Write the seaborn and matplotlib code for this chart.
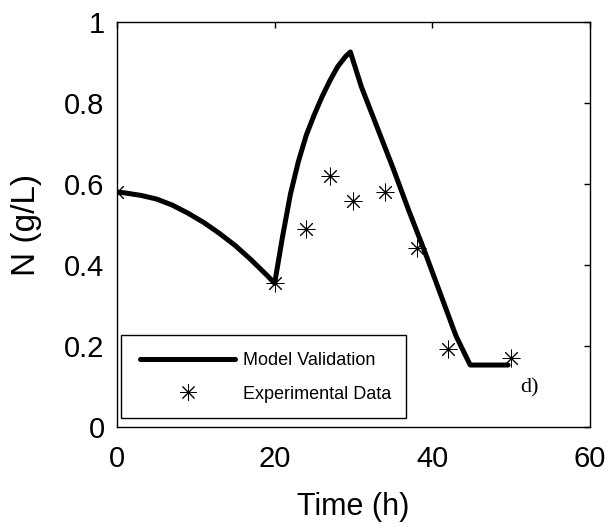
import matplotlib
matplotlib.use("Agg")
import matplotlib.pyplot as plt
from matplotlib.lines import Line2D
from matplotlib.patches import Rectangle
from matplotlib import font_manager
import seaborn as sns
import pandas as pd

# Model validation curve
model_time = [0, 1, 3, 5, 7, 9, 11, 13, 15, 17, 19, 20, 21, 22, 23, 24, 25, 26, 27, 28, 29, 29.6,
              31, 33, 35, 37, 39, 41, 43, 44.8, 49.6]
model_n = [0.58, 0.578, 0.572, 0.563, 0.548, 0.528, 0.505, 0.478, 0.448, 0.413, 0.375, 0.355,
           0.47, 0.575, 0.655, 0.72, 0.77, 0.815, 0.855, 0.89, 0.915, 0.926,
           0.84, 0.74, 0.64, 0.535, 0.435, 0.33, 0.225, 0.153, 0.153]

# Experimental data
exp_time = [0, 20, 24, 27, 30, 34, 38, 42, 50]
exp_n = [0.58, 0.356, 0.49, 0.62, 0.557, 0.58, 0.442, 0.193, 0.17]

x_ticks = [0, 20, 40, 60]
y_ticks = [0, 0.2, 0.4, 0.6, 0.8, 1.0]
y_tick_labels = ["0", "0.2", "0.4", "0.6", "0.8", "1"]
legend_labels = ["Model Validation", "Experimental Data"]

sns.set_style("white")
plt.rcParams['font.family'] = ['Liberation Sans', 'DejaVu Sans']
plt.rcParams['text.color'] = 'black'
plt.rcParams['axes.labelcolor'] = 'black'

names = {f.name for f in font_manager.fontManager.ttflist}
legend_family = 'Liberation Sans Narrow' if 'Liberation Sans Narrow' in names else 'Liberation Sans'
legend_size = 16 if legend_family == 'Liberation Sans Narrow' else 13

W, H = 611, 527
fig = plt.figure(figsize=(W / 100, H / 100), dpi=100)
ax = fig.add_axes([117/W, 1-427/H, (590-117)/W, (427-22)/H])

df_model = pd.DataFrame({"t": model_time, "n": model_n})
df_exp = pd.DataFrame({"t": exp_time, "n": exp_n})

sns.lineplot(data=df_model, x="t", y="n", ax=ax, color="black", linewidth=3.6,
             sort=False, estimator=None, legend=False)
sns.scatterplot(data=df_exp, x="t", y="n", ax=ax, marker=(8, 2, 0), s=150,
                color="black", linewidth=0.7, edgecolor="black", legend=False, zorder=3)

ax.set_xlim(0, 60)
ax.set_ylim(0, 1)
ax.set_xticks(x_ticks)
ax.set_xticklabels([str(v) for v in x_ticks])
ax.set_yticks(y_ticks)
ax.set_yticklabels(y_tick_labels)
ax.tick_params(direction="in", length=4, width=1, top=True, right=True,
               labelsize=21, colors="black")
ax.tick_params(axis="x", pad=13)
ax.tick_params(axis="y", pad=9)
for s in ax.spines.values():
    s.set_linewidth(1.0)
    s.set_color("black")
    s.set_visible(True)

ax.set_xlabel("Time (h)", fontsize=22, labelpad=14, color="black")
ax.set_ylabel("N (g/L)", fontsize=24, labelpad=16, color="black")

# Legend frame (MATLAB-style box)
fx0, fx1, fy0, fy1 = 121, 406, 335, 418
ax.add_patch(Rectangle((fx0 / W, 1 - fy1 / H), (fx1 - fx0) / W, (fy1 - fy0) / H,
                       transform=fig.transFigure, facecolor="white", edgecolor="black",
                       linewidth=1.0, zorder=4))

handles = [Line2D([], [], color="black", linewidth=3.6),
           Line2D([], [], color="black", linestyle="none", marker=(8, 2, 0),
                  markersize=12, markeredgewidth=0.7)]
leg = ax.legend(handles, legend_labels,
                loc="upper left", bbox_to_anchor=(140 / W, 1 - 352 / H),
                bbox_transform=fig.transFigure,
                prop={"family": legend_family, "size": legend_size},
                handlelength=95 / (legend_size * 100 / 72), handletextpad=0.45,
                labelspacing=0.92, borderpad=0.0, borderaxespad=0.0,
                frameon=False)
leg.set_zorder(5)
for t in leg.get_texts():
    t.set_color("black")

ax.text(51.1, 0.084, "d)", fontsize=16, family="Liberation Serif", color="black")

fig.savefig("out.png", dpi=100)
